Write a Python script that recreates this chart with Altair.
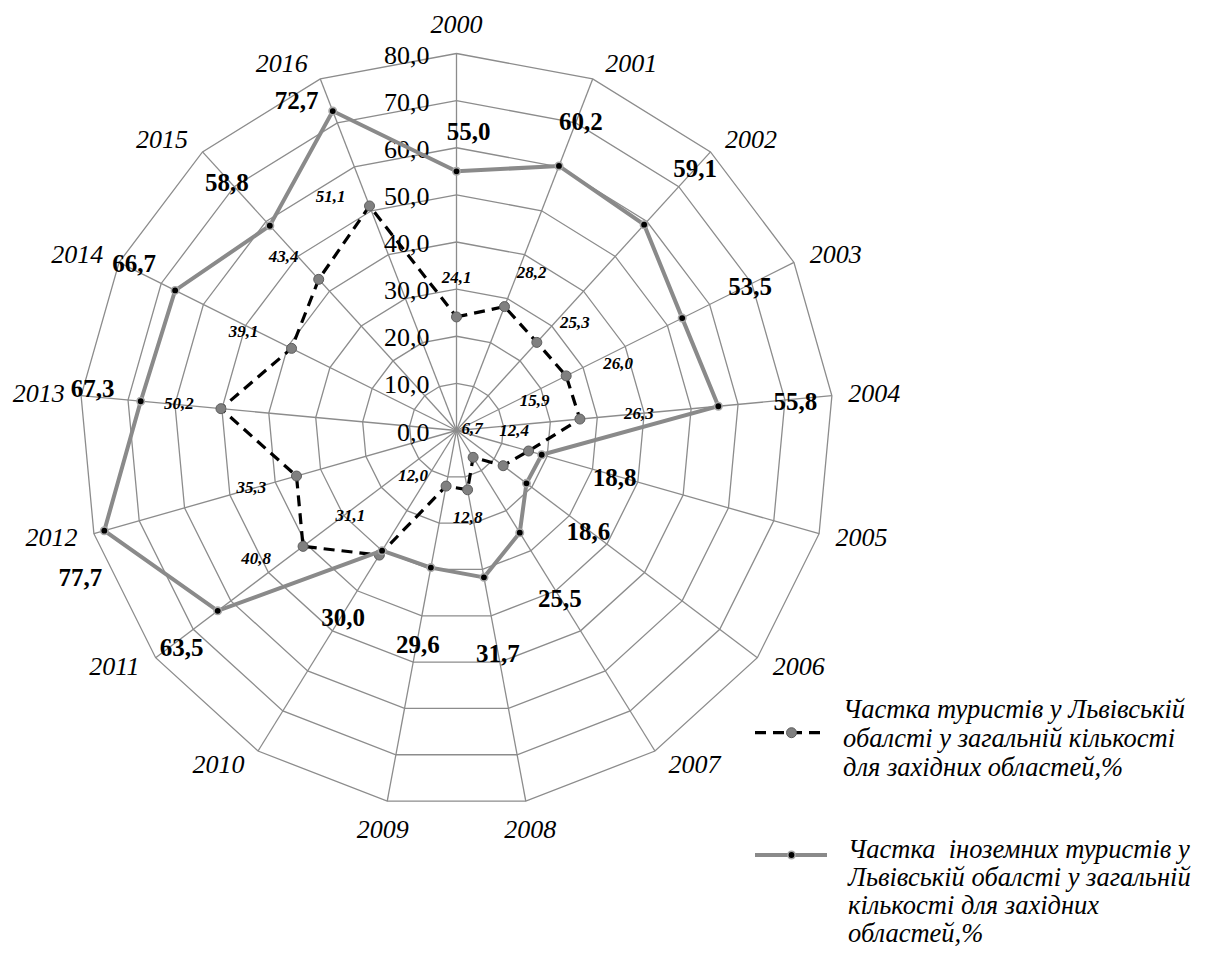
import altair as alt
import pandas as pd

# ---------------- data ----------------
years = ["2000", "2001", "2002", "2003", "2004", "2005", "2006", "2007", "2008",
         "2009", "2010", "2011", "2012", "2013", "2014", "2015", "2016"]
share_lviv = [24.1, 28.2, 25.3, 26.0, 26.3, 15.9, 12.4, 6.7, 12.8,
              12.0, 31.1, 40.8, 35.3, 50.2, 39.1, 43.4, 51.1]
share_foreign = [55.0, 60.2, 59.1, 53.5, 55.8, 18.8, 18.6, 25.5, 31.7,
                 29.6, 30.0, 63.5, 77.7, 67.3, 66.7, 58.8, 72.7]
tick_values = [0, 10, 20, 30, 40, 50, 60, 70, 80]
legend_lviv = ["Частка туристів у Львівській",
               "обалсті у загальній кількості",
               "для західних областей,%"]
legend_foreign = ["Частка \u00a0іноземних туристів у",
                  "Львівській обалсті у загальній",
                  "кількості для західних",
                  "областей,%"]

# label nudges (pixels, right / down) relative to each data point
nudge_lviv_dx = [0, 27, 38, 52, 59, 6, 11, -1, 0, -33, -29, -47, -45, -42, -48, -35, -39]
nudge_lviv_dy = [-39, -34, -19, -12, -5, -50, -35, -28, 28, -10, -39, 13, 12, -5, -16, -22, -9]
nudge_foreign_dx = [12, 22, 51, 68, 77, 73, 62, 40, 14, -13, -39, -36, -24, -48, -41, -43, -36]
nudge_foreign_dy = [-39, -44, -56, -31, -4, 23, 49, 66, 77, 77, 67, 37, 47, -12, -26, -43, -10]

# ---------------- geometry ----------------
N = len(years)
PX = 4.7125            # pixels per unit of the radial scale
W, H = 1186, 941
CX, CY = 448.5, 422.5  # centre of the radar in plot pixels
R_MAX = tick_values[-1]

xs = alt.Scale(domain=[-CX / PX, (W - CX) / PX], nice=False, zero=False)
ys = alt.Scale(domain=[-(H - CY) / PX, CY / PX], nice=False, zero=False)
SERIF = "Liberation Serif"
GRID = "#8c8c8c"


def X(f):
    return alt.X(f, type="quantitative", scale=xs, axis=None)


def Y(f):
    return alt.Y(f, type="quantitative", scale=ys, axis=None)


ANG = f"datum.idx * 2 * PI / {N}"

# --- data frames built from the lists ---
df_pts = pd.DataFrame({
    "year": years, "idx": list(range(N)),
    "lviv": share_lviv, "foreign": share_foreign,
    "ldx": nudge_lviv_dx, "ldy": nudge_lviv_dy,
    "fdx": nudge_foreign_dx, "fdy": nudge_foreign_dy,
})
df_closed = pd.DataFrame({
    "idx": list(range(N + 1)),
    "lviv": share_lviv + share_lviv[:1],
    "foreign": share_foreign + share_foreign[:1],
})
df_rings = pd.DataFrame(
    [{"level": lv, "idx": i} for lv in tick_values[1:] for i in range(N + 1)]
)
df_ticks = pd.DataFrame({"v": tick_values})
one = pd.DataFrame({"k": [0]})

# --- grid ---
spokes = alt.Chart(df_pts).transform_calculate(
    a=ANG, zero="0",
).transform_calculate(
    sx=f"{R_MAX} * sin(datum.a)", sy=f"{R_MAX} * cos(datum.a)"
).mark_rule(color=GRID, strokeWidth=1.3).encode(
    x=X("zero"), y=Y("zero"), x2="sx:Q", y2="sy:Q"
)

rings = alt.Chart(df_rings).transform_calculate(a=ANG).transform_calculate(
    x="datum.level * sin(datum.a)", y="datum.level * cos(datum.a)"
).mark_line(color=GRID, strokeWidth=1.3).encode(
    x=X("x"), y=Y("y"), order="idx:Q", detail="level:N"
)

tick_labels = alt.Chart(df_ticks).transform_calculate(
    zero="0", lab="replace(format(datum.v, '.1f'), '.', ',')"
).mark_text(align="right", baseline="middle", dx=-27, dy=2,
            font=SERIF, fontSize=26, color="black").encode(
    x=X("zero"), y=Y("v"), text="lab:N"
)

# category labels: sit beside the spoke tip, left/right of it on the sides,
# above/below it near the top and bottom
cat_labels = alt.Chart(df_pts).transform_calculate(a=ANG).transform_calculate(
    s="sin(datum.a)", c="cos(datum.a)"
).transform_calculate(
    hx="abs(datum.s) < 0.2 ? datum.s * 25 : (datum.s > 0 ? 1 : -1) * (36.5 + 6 * abs(datum.s))",
    vy="abs(datum.s) < 0.2 ? datum.c * 29 : datum.c * 16",
).transform_calculate(
    x=f"{R_MAX} * datum.s + datum.hx / {PX}",
    y=f"{R_MAX} * datum.c + datum.vy / {PX}",
).mark_text(align="center", baseline="middle", font=SERIF, fontSize=26,
            fontStyle="italic", color="black").encode(
    x=X("x"), y=Y("y"), text="year:N"
)

# --- series ---
closed = alt.Chart(df_closed).transform_calculate(a=ANG).transform_calculate(
    xl="datum.lviv * sin(datum.a)", yl="datum.lviv * cos(datum.a)",
    xf="datum.foreign * sin(datum.a)", yf="datum.foreign * cos(datum.a)",
)
line_lviv = closed.mark_line(color="black", strokeWidth=3.2,
                             strokeDash=[11, 7]).encode(
    x=X("xl"), y=Y("yl"), order="idx:Q")
line_foreign = closed.mark_line(color="#8a8a8a", strokeWidth=4).encode(
    x=X("xf"), y=Y("yf"), order="idx:Q")

pts = alt.Chart(df_pts).transform_calculate(a=ANG).transform_calculate(
    xl="datum.lviv * sin(datum.a)", yl="datum.lviv * cos(datum.a)",
    xf="datum.foreign * sin(datum.a)", yf="datum.foreign * cos(datum.a)",
    tl="replace(format(datum.lviv, '.1f'), '.', ',')",
    tf="replace(format(datum.foreign, '.1f'), '.', ',')",
).transform_calculate(
    lxl=f"datum.xl + datum.ldx / {PX}", lyl=f"datum.yl - datum.ldy / {PX}",
    lxf=f"datum.xf + datum.fdx / {PX}", lyf=f"datum.yf - datum.fdy / {PX}",
)
pts_lviv = pts.mark_circle(size=100, fill="#808080", stroke="#5e5e5e",
                           strokeWidth=1, opacity=1).encode(x=X("xl"), y=Y("yl"))
pts_foreign = pts.mark_circle(size=55, fill="black", stroke="#a8a8a8",
                              strokeWidth=1.6, opacity=1).encode(x=X("xf"), y=Y("yf"))
lab_lviv = pts.mark_text(align="center", baseline="middle", font=SERIF,
                         fontSize=17, fontStyle="italic", fontWeight="bold",
                         color="black").encode(x=X("lxl"), y=Y("lyl"), text="tl:N")
lab_foreign = pts.mark_text(align="center", baseline="middle", font=SERIF,
                            fontSize=25, fontWeight="bold",
                            color="black").encode(x=X("lxf"), y=Y("lyf"), text="tf:N")

# --- legend ---
leg = alt.Chart(one)
leg1_line = leg.mark_rule(color="black", strokeWidth=3.2, strokeDash=[11, 7]).encode(
    x=alt.value(747), x2=alt.value(815), y=alt.value(724.7))
leg1_pt = leg.mark_circle(size=100, fill="#808080", stroke="#5e5e5e",
                          strokeWidth=1, opacity=1).encode(
    x=alt.value(783.5), y=alt.value(724.7))
leg1_txt = leg.mark_text(text=legend_lviv, align="left", baseline="alphabetic",
                         lineHeight=29, font=SERIF, fontSize=26.5,
                         fontStyle="italic", color="black").encode(
    x=alt.value(835), y=alt.value(710))
leg2_line = leg.mark_rule(color="#8a8a8a", strokeWidth=4).encode(
    x=alt.value(747), x2=alt.value(819), y=alt.value(847))
leg2_pt = leg.mark_circle(size=55, fill="black", stroke="#a8a8a8",
                          strokeWidth=1.6, opacity=1).encode(
    x=alt.value(783.5), y=alt.value(847))
leg2_txt = leg.mark_text(text=legend_foreign, align="left", baseline="alphabetic",
                         lineHeight=28, font=SERIF, fontSize=26.5,
                         fontStyle="italic", color="black").encode(
    x=alt.value(840), y=alt.value(850))

chart = alt.layer(
    rings, spokes, tick_labels, cat_labels,
    line_lviv, pts_lviv, line_foreign, pts_foreign,
    lab_lviv, lab_foreign,
    leg1_line, leg1_pt, leg1_txt, leg2_line, leg2_pt, leg2_txt,
).properties(
    width=W, height=H, padding=0,
    autosize=alt.AutoSizeParams(type="none"),
).configure_view(strokeWidth=0)

chart.save("out.html", embed_options={"renderer": "svg", "actions": False})
